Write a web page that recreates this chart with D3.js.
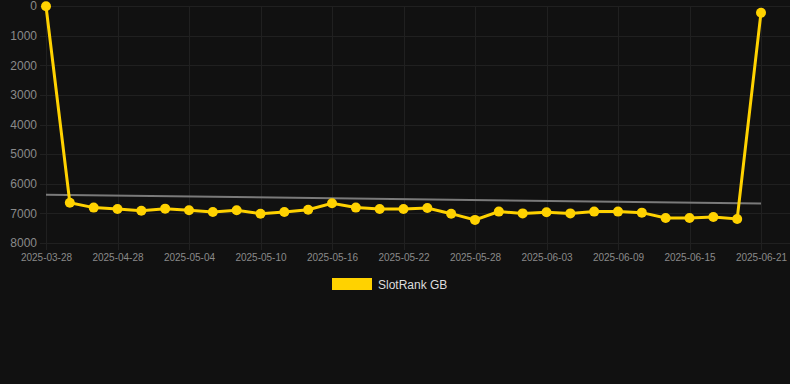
<!DOCTYPE html>
<html>
<head>
<meta charset="utf-8">
<script src="https://cdn.jsdelivr.net/npm/d3@7"></script>
<style>
  html, body { margin: 0; padding: 0; background: #111111; }
  svg { display: block; font-family: "Liberation Sans", Arial, sans-serif; }
</style>
</head>
<body>
<div id="chart"></div>
<script>
  const dates = [
    "2025-03-28", "2025-04-24", "2025-04-26", "2025-04-28", "2025-04-30",
    "2025-05-02", "2025-05-04", "2025-05-06", "2025-05-08", "2025-05-10",
    "2025-05-12", "2025-05-14", "2025-05-16", "2025-05-18", "2025-05-20",
    "2025-05-22", "2025-05-24", "2025-05-26", "2025-05-28", "2025-05-30",
    "2025-06-01", "2025-06-03", "2025-06-05", "2025-06-07", "2025-06-09",
    "2025-06-11", "2025-06-13", "2025-06-15", "2025-06-17", "2025-06-19",
    "2025-06-21"
  ];
  const rankGB = [
    10, 6640, 6805, 6850, 6910, 6840, 6895, 6955, 6895, 7010,
    6955, 6875, 6660, 6805, 6850, 6850, 6820, 7010, 7220, 6940,
    7000, 6965, 7000, 6940, 6940, 6975, 7155, 7155, 7120, 7190,
    225
  ];
  const trendValues = [6370, 6670];
  const yTicks = [0, 1000, 2000, 3000, 4000, 5000, 6000, 7000, 8000];
  const seriesName = "SlotRank GB";

  const width = 790;
  const height = 384;
  const margin = { top: 6, right: 29, bottom: 141, left: 46 };

  const svg = d3
    .select("#chart")
    .append("svg")
    .attr("width", width)
    .attr("height", height);

  const x = d3
    .scalePoint()
    .domain(dates)
    .range([margin.left, width - margin.right]);

  const y = d3
    .scaleLinear()
    .domain([0, 8000])
    .range([margin.top, height - margin.bottom]);

  // grid
  svg
    .append("g")
    .selectAll("line")
    .data(yTicks)
    .join("line")
    .attr("x1", 40)
    .attr("x2", width)
    .attr("y1", (d) => Math.round(y(d)) + 0.5)
    .attr("y2", (d) => Math.round(y(d)) + 0.5)
    .attr("stroke", "#202020");

  const labelDates = dates.filter((d, i) => i % 3 === 0);
  svg
    .append("g")
    .selectAll("line")
    .data(labelDates)
    .join("line")
    .attr("x1", (d) => Math.round(x(d)) + 0.5)
    .attr("x2", (d) => Math.round(x(d)) + 0.5)
    .attr("y1", margin.top)
    .attr("y2", height - margin.bottom + 7)
    .attr("stroke", "#202020");

  // y axis
  const yAxis = (g) => {
    g.attr("transform", `translate(${margin.left - 9}, 0)`)
      .call(d3.axisLeft(y).tickValues(yTicks).tickSize(0).tickPadding(0).tickFormat(d3.format("d")))
      .attr("font-family", null);
    g.select(".domain").remove();
    g.selectAll("text")
      .attr("fill", "#8a8a8a")
      .style("font-size", "12px");
  };

  // x axis
  const xAxis = (g) => {
    g.attr("transform", `translate(0, ${height - margin.bottom + 7})`)
      .call(d3.axisBottom(x).tickValues(labelDates).tickSize(0).tickPadding(4))
      .attr("font-family", null);
    g.select(".domain").remove();
    g.selectAll("text")
      .attr("fill", "#8a8a8a")
      .style("font-size", "10px");
  };

  svg.append("g").call(yAxis);
  svg.append("g").call(xAxis);

  // trend line
  svg
    .append("line")
    .attr("x1", x(dates[0]))
    .attr("x2", x(dates[dates.length - 1]))
    .attr("y1", y(trendValues[0]))
    .attr("y2", y(trendValues[1]))
    .attr("stroke", "#7a7a7a")
    .attr("stroke-width", 2);

  const line = d3
    .line()
    .x((d, i) => x(dates[i]))
    .y((d) => y(d));

  svg
    .append("path")
    .datum(rankGB)
    .attr("fill", "none")
    .attr("stroke", "#FFD200")
    .attr("stroke-width", 3)
    .attr("d", line);

  svg
    .append("g")
    .selectAll("circle")
    .data(rankGB)
    .join("circle")
    .attr("cx", (d, i) => x(dates[i]))
    .attr("cy", (d) => y(d))
    .attr("r", 5)
    .attr("fill", "#FFD200");

  // legend
  const legend = svg.append("g").attr("transform", "translate(332, 278)");
  legend
    .append("rect")
    .attr("width", 40)
    .attr("height", 12)
    .attr("fill", "#FFD200");
  legend
    .append("text")
    .attr("x", 46)
    .attr("y", 10.5)
    .style("font-size", "12px")
    .attr("fill", "#dddddd")
    .text(seriesName);
</script>
</body>
</html>
